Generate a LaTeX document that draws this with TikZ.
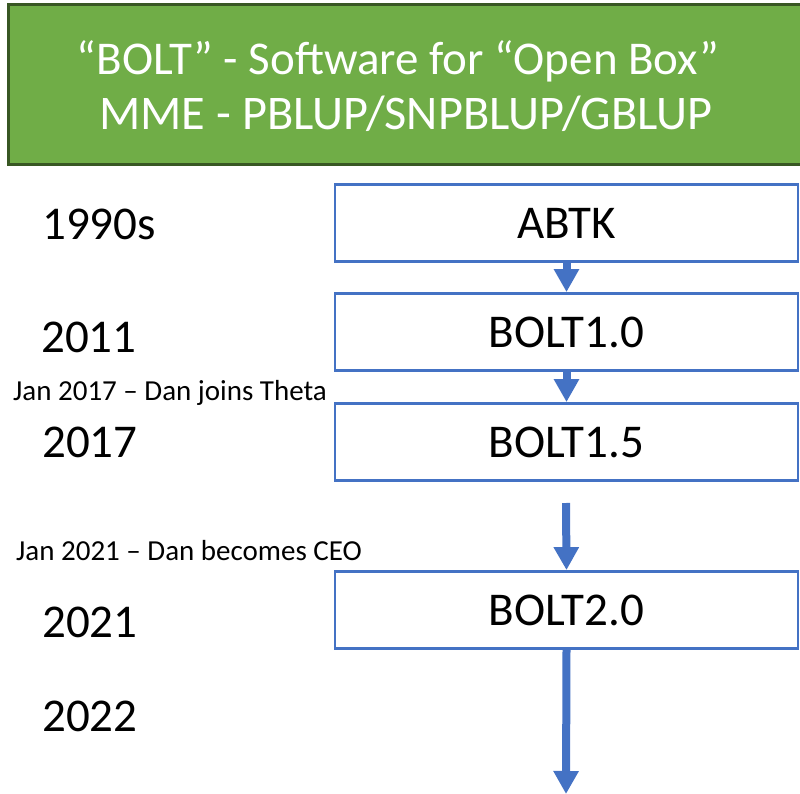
\documentclass[tikz,border=0pt]{standalone}
\usepackage{fontspec}
\setmainfont{Carlito}
\usetikzlibrary{arrows.meta}
\definecolor{hdrgreen}{HTML}{70AD47}
\definecolor{hdrborder}{HTML}{385723}
\definecolor{boxblue}{HTML}{4472C4}
\begin{document}
\begin{tikzpicture}[x=1pt,y=-1pt,
  stepbox/.style={draw=boxblue, line width=2.8pt, minimum width=463pt, minimum height=77pt, inner sep=0pt, font=\fontsize{47}{56}\selectfont},
  yearlabel/.style={anchor=base west, inner sep=0pt, font=\fontsize{47}{56}\selectfont},
  notelabel/.style={anchor=base west, inner sep=0pt, font=\fontsize{29}{35}\selectfont},
  titletext/.style={anchor=base, inner sep=0pt, text=white, font=\fontsize{47}{56}\selectfont},
  flow/.style={draw=boxblue, line width=8pt, -{Triangle[width=24pt,length=23pt]}}]
\useasboundingbox (0,0) rectangle (800,794);
\node[draw=hdrborder, fill=hdrgreen, line width=3pt, minimum width=804pt, minimum height=160pt, inner sep=0pt] (header) at (410,85) {};
\node[titletext] (title1) at (398,75) {“BOLT” - Software for “Open Box”};
\node[titletext, font=\fontsize{48.3}{56}\selectfont] (title2) at (406,130) {MME - PBLUP/SNPBLUP/GBLUP};

\node[stepbox] (abtk) at (566.5,223) {\raisebox{-2pt}{ABTK}};
\node[stepbox] (bolt10) at (566.5,332) {\raisebox{-2pt}{BOLT1.0}};
\node[stepbox] (bolt15) at (566.5,442) {\raisebox{-2pt}{BOLT1.5}};
\node[stepbox] (bolt20) at (566.5,610) {\raisebox{-2pt}{BOLT2.0}};

\node[yearlabel] (y1990) at (42,240) {1990s};
\node[yearlabel] (y2011) at (41,352) {2011};
\node[yearlabel] (y2017) at (42,457) {2017};
\node[yearlabel] (y2021) at (42,637) {2021};
\node[yearlabel] (y2022) at (42,731) {2022};

\node[notelabel] (n2017) at (13,400) {Jan 2017 – Dan joins Theta};
\node[notelabel] (n2021) at (16,560) {Jan 2021 – Dan becomes CEO};

\coordinate (s15) at (566,503);
\coordinate (endpt) at (566,794);
\draw[flow] (abtk.south) -- (bolt10.north);
\draw[flow] (bolt10.south) -- (bolt15.north);
\draw[flow] (s15) -- (bolt20.north);
\draw[flow] (bolt20.south) -- (endpt);
\end{tikzpicture}
\end{document}
